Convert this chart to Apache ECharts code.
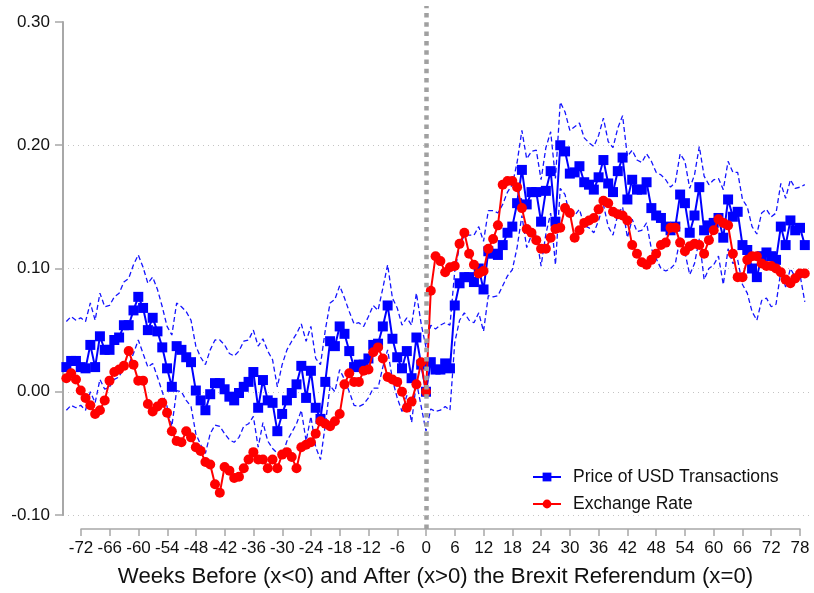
<!DOCTYPE html>
<html>
<head>
<meta charset="utf-8">
<script src="https://cdn.jsdelivr.net/npm/echarts@6/dist/echarts.min.js"></script>
<style>
  html, body { margin: 0; padding: 0; background: #fff; }
  #main { width: 814px; height: 593px; }
</style>
</head>
<body>
<div id="main"></div>
<script>
// weekly data, week -75 .. 79 (0 = Brexit referendum)
const firstWeek = -75

// Price of USD Transactions (point estimate)
const usdPrice = [
  0.020, 0.025, 0.025, 0.020, 0.019, 0.038, 0.020, 0.045, 0.034, 0.034,
  0.042, 0.044, 0.054, 0.054, 0.066, 0.077, 0.068, 0.050, 0.060, 0.049,
  0.036, 0.019, 0.004, 0.037, 0.034, 0.028, 0.024, 0.001, -0.007, -0.015,
  -0.002, 0.007, 0.007, 0.002, -0.004, -0.007, -0.001, 0.004,
  0.008, 0.016, -0.013, 0.0095, -0.007, -0.009, -0.032, -0.018, -0.007, -0.001,
  0.006, 0.021, -0.005, 0.017, -0.013, -0.022, 0.008, 0.041, 0.037, 0.053,
  0.047, 0.033, 0.020, 0.022, 0.022, 0.027, 0.038, 0.039, 0.053, 0.070,
  0.043, 0.028, 0.019, 0.033, 0.011, 0.044, 0.022, 0.000,
  0.024, 0.018, 0.018, 0.023, 0.019, 0.070, 0.088, 0.093, 0.093, 0.089,
  0.100, 0.083, 0.114, 0.112, 0.111, 0.119, 0.129, 0.134, 0.153, 0.180,
  0.152, 0.162, 0.162, 0.138, 0.163, 0.179, 0.138, 0.200, 0.195, 0.177,
  0.178, 0.183, 0.170, 0.168, 0.164, 0.174, 0.188, 0.169, 0.162, 0.179,
  0.190, 0.156, 0.172, 0.164, 0.164, 0.170, 0.149, 0.143, 0.141, 0.134,
  0.131, 0.134, 0.160, 0.153, 0.129, 0.143, 0.166, 0.131, 0.135, 0.137,
  0.141, 0.125, 0.156, 0.142, 0.146, 0.119, 0.115, 0.100, 0.093, 0.110,
  0.113, 0.110, 0.107, 0.134, 0.119, 0.139, 0.131, 0.133, 0.119
]

// upper / lower confidence band of the USD price
const usdUpper = [
  0.057, 0.061, 0.058, 0.060, 0.057, 0.072, 0.058, 0.080, 0.069, 0.070,
  0.077, 0.080, 0.089, 0.092, 0.103, 0.111, 0.101, 0.088, 0.093, 0.083,
  0.069, 0.053, 0.046, 0.072, 0.069, 0.065, 0.058, 0.037, 0.028, 0.022,
  0.034, 0.042, 0.042, 0.038, 0.031, 0.029, 0.033, 0.041,
  0.042, 0.050, 0.037, 0.043, 0.033, 0.026, 0.004, 0.022, 0.034, 0.041,
  0.047, 0.055, 0.041, 0.053, 0.027, 0.022, 0.050, 0.072, 0.075, 0.086,
  0.076, 0.065, 0.055, 0.056, 0.053, 0.061, 0.070, 0.066, 0.084, 0.103,
  0.076, 0.068, 0.054, 0.060, 0.054, 0.080, 0.055, 0.036,
  0.054, 0.051, 0.054, 0.056, 0.054, 0.098, 0.118, 0.127, 0.127, 0.127,
  0.134, 0.122, 0.147, 0.147, 0.145, 0.152, 0.162, 0.168, 0.186, 0.212,
  0.189, 0.195, 0.196, 0.172, 0.198, 0.211, 0.173, 0.235, 0.227, 0.212,
  0.215, 0.218, 0.206, 0.202, 0.199, 0.208, 0.222, 0.203, 0.198, 0.214,
  0.224, 0.191, 0.196, 0.188, 0.186, 0.193, 0.187, 0.178, 0.176, 0.172,
  0.166, 0.170, 0.193, 0.187, 0.165, 0.176, 0.199, 0.175, 0.168, 0.172,
  0.173, 0.164, 0.187, 0.178, 0.178, 0.156, 0.150, 0.134, 0.128, 0.145,
  0.148, 0.142, 0.145, 0.169, 0.157, 0.172, 0.165, 0.166, 0.168
]
const usdLower = [
  -0.015, -0.011, -0.013, -0.011, -0.015, 0.000, -0.009, 0.010, 0.002, 0.004,
  0.010, 0.012, 0.020, 0.022, 0.031, 0.042, 0.031, 0.020, 0.023, 0.012,
  0.000, -0.012, -0.028, 0.001, 0.000, -0.007, -0.012, -0.034, -0.043, -0.050,
  -0.034, -0.027, -0.028, -0.034, -0.039, -0.041, -0.037, -0.028,
  -0.026, -0.020, -0.045, -0.025, -0.040, -0.046, -0.050, -0.052, -0.040, -0.033,
  -0.026, -0.015, -0.040, -0.020, -0.045, -0.055, -0.027, 0.005, 0.000, 0.018,
  0.010, 0.000, -0.011, -0.012, -0.010, -0.005, 0.003, 0.003, 0.020, 0.034,
  0.010, -0.005, -0.016, -0.003, -0.025, 0.008, -0.012, -0.032,
  -0.014, -0.016, -0.015, -0.012, -0.015, 0.040, 0.058, 0.064, 0.058, 0.056,
  0.064, 0.049, 0.078, 0.077, 0.078, 0.086, 0.094, 0.099, 0.117, 0.143,
  0.117, 0.127, 0.127, 0.102, 0.128, 0.145, 0.103, 0.165, 0.160, 0.142,
  0.143, 0.148, 0.135, 0.133, 0.129, 0.139, 0.152, 0.134, 0.127, 0.144,
  0.150, 0.125, 0.140, 0.130, 0.131, 0.137, 0.116, 0.108, 0.100, 0.098,
  0.100, 0.104, 0.125, 0.113, 0.095, 0.104, 0.124, 0.091, 0.100, 0.103,
  0.110, 0.087, 0.116, 0.104, 0.107, 0.087, 0.080, 0.065, 0.058, 0.074,
  0.076, 0.069, 0.071, 0.098, 0.085, 0.100, 0.093, 0.095, 0.073
]

// Exchange rate
const exchangeRate = [
  0.011, 0.015, 0.010, 0.001, -0.005, -0.011, -0.018, -0.015, -0.007, 0.009,
  0.016, 0.018, 0.021, 0.033, 0.022, 0.009, 0.009, -0.010, -0.016, -0.012,
  -0.009, -0.017, -0.032, -0.040, -0.041, -0.032, -0.037, -0.045, -0.048, -0.057,
  -0.059, -0.075, -0.082, -0.061, -0.064, -0.070, -0.069, -0.062, -0.055,
  -0.049, -0.055, -0.055, -0.062, -0.055, -0.062, -0.051, -0.049, -0.053, -0.062,
  -0.045, -0.043, -0.041, -0.034, -0.024, -0.026, -0.028, -0.024, -0.018, 0.006,
  0.015, 0.008, 0.008, 0.017, 0.018, 0.032, 0.036, 0.027, 0.012, 0.010,
  0.008, 0.000, -0.013, -0.008, 0.006, 0.024, 0.000,
  0.082, 0.110, 0.106, 0.097, 0.101, 0.102, 0.120, 0.129, 0.112, 0.103,
  0.096, 0.098, 0.116, 0.124, 0.135, 0.168, 0.171, 0.171, 0.166, 0.149,
  0.132, 0.129, 0.123, 0.116, 0.116, 0.125, 0.132, 0.133, 0.149, 0.145,
  0.125, 0.131, 0.137, 0.139, 0.141, 0.148, 0.155, 0.153, 0.146, 0.144,
  0.143, 0.139, 0.119, 0.112, 0.105, 0.103, 0.107, 0.112, 0.119, 0.121,
  0.133, 0.133, 0.121, 0.114, 0.118, 0.120, 0.119, 0.112, 0.123, 0.131,
  0.140, 0.137, 0.135, 0.112, 0.093, 0.093, 0.107, 0.110, 0.110, 0.104,
  0.102, 0.102, 0.100, 0.097, 0.091, 0.088, 0.092, 0.096, 0.096
]

const xTicks = { min: -72, max: 78, step: 6 }
const yTicks = { min: -0.1, max: 0.3, step: 0.1 }
const eventWeek = 0

const weeks = usdPrice.map((v, i) => firstWeek + i)
const toPairs = arr => arr.map((v, i) => [weeks[i], v])

const font = '"Liberation Sans", Arial, sans-serif'
const axisGray = '#a8a8a8'

let chart = echarts.init(document.getElementById('main'))

let option = {
  animation: false,
  backgroundColor: '#fff',
  textStyle: { fontFamily: font, color: '#111' },
  grid: [
    // data area
    { left: 63, right: 4.4, top: 22, bottom: 78 },
    // axis + reference line area
    { left: 81, right: 14, top: 6, bottom: 63 }
  ],
  legend: {
    data: ['Price of USD Transactions', 'Exchange Rate'],
    orient: 'vertical',
    left: 527,
    top: 463,
    itemWidth: 28,
    itemHeight: 11,
    itemGap: 9,
    textStyle: { fontFamily: font, fontSize: 17.5, color: '#111', padding: [0, 0, 0, 7] }
  },
  xAxis: [
    {
      type: 'value', gridIndex: 0, min: -75.7, max: 80, show: false
    },
    {
      type: 'value', gridIndex: 1,
      min: xTicks.min, max: xTicks.max, interval: xTicks.step,
      name: 'Weeks Before (x<0) and After (x>0) the Brexit Referendum (x=0)',
      nameLocation: 'middle',
      nameGap: 37,
      nameTextStyle: { fontFamily: font, fontSize: 22.2, color: '#111', padding: [0, 10, 0, 0] },
      axisLine: { show: true, onZero: false, lineStyle: { color: axisGray, width: 1.5 } },
      axisTick: { show: true, length: 7, lineStyle: { color: axisGray, width: 1.5 } },
      axisLabel: { fontFamily: font, fontSize: 17, color: '#111', margin: 11 },
      splitLine: { show: false }
    }
  ],
  yAxis: [
    {
      type: 'value', gridIndex: 0,
      min: yTicks.min, max: yTicks.max, interval: yTicks.step,
      axisLine: { show: true, onZero: false, lineStyle: { color: axisGray, width: 2 } },
      axisTick: { show: true, length: 8, lineStyle: { color: axisGray, width: 1.5 } },
      axisLabel: {
        fontFamily: font, fontSize: 17, color: '#111', margin: 13,
        formatter: v => v.toFixed(2)
      },
      splitLine: {
        show: true, showMaxLine: false,
        lineStyle: { color: '#c4c4c4', width: 1, type: [1, 4] }
      }
    },
    { type: 'value', gridIndex: 1, min: 0, max: 1, show: false }
  ],
  series: [
    {
      // vertical reference line at the referendum
      name: 'ref',
      type: 'line',
      xAxisIndex: 1, yAxisIndex: 1,
      data: [],
      z: 1,
      markLine: {
        silent: true,
        symbol: ['none', 'none'],
        label: { show: false },
        lineStyle: { color: '#a0a0a0', width: 4.5, type: [4.5, 4.8] },
        data: [{ xAxis: eventWeek }]
      }
    },
    {
      name: 'upper',
      type: 'line',
      data: toPairs(usdUpper),
      showSymbol: false,
      symbol: 'none',
      lineStyle: { color: '#1414ff', width: 1.3, type: [5, 3] },
      z: 2
    },
    {
      name: 'lower',
      type: 'line',
      data: toPairs(usdLower),
      showSymbol: false,
      symbol: 'none',
      lineStyle: { color: '#1414ff', width: 1.3, type: [5, 3] },
      z: 2
    },
    {
      name: 'Price of USD Transactions',
      type: 'line',
      data: toPairs(usdPrice),
      symbol: 'rect',
      symbolSize: 10,
      itemStyle: { color: '#0000ff' },
      lineStyle: { color: '#0000ff', width: 2 },
      z: 3
    },
    {
      name: 'Exchange Rate',
      type: 'line',
      data: toPairs(exchangeRate),
      symbol: 'circle',
      symbolSize: 10,
      itemStyle: { color: '#ff0000' },
      lineStyle: { color: '#ff0000', width: 2 },
      z: 4
    }
  ]
}

chart.setOption(option)
</script>
</body>
</html>
